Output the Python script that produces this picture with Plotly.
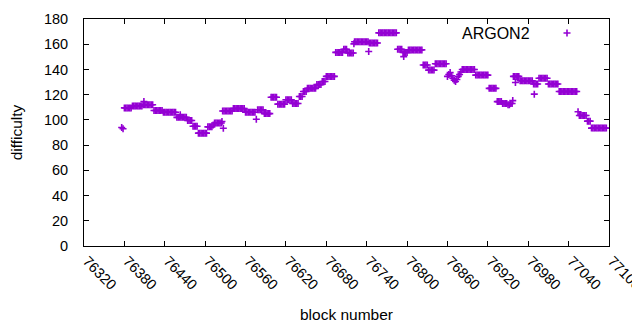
import plotly.graph_objects as go

# Main series: every second block from 76376 to 77096
blocks = list(range(76376, 77098, 2))
difficulty = [
    94, 93,                                                  # 76376
    109.5, 109.5, 109.5, 109.5, 109.5, 109.5,                # 76380
    111, 111, 111, 111, 111, 111, 111, 111,                  # 76392
    112, 112, 112, 112, 112, 112, 112, 112,                  # 76408
    107.5, 107.5, 107.5, 107.5, 107.5, 107.5, 107.5,         # 76424
    106, 106, 106, 106, 106, 106, 106, 106, 106, 106,        # 76438
    102, 102, 102, 102, 102, 102, 102, 102,                  # 76458
    99.5, 99.5, 99.5, 99.5,                                  # 76474
    95, 95, 95, 95,                                          # 76482
    89.5, 89.5, 89.5, 89.5, 89.5, 89.5, 89.5,                # 76490
    94.5, 94.5, 94.5, 94.5,                                  # 76504
    96,                                                      # 76512
    97.5, 97.5, 97.5, 97.5, 97.5, 97.5,                      # 76514
    107, 107, 107, 107, 107, 107, 107, 107,                  # 76526
    109, 109, 109, 109, 109, 109, 109, 109, 109,             # 76542
    106, 106, 106, 106, 106, 106, 106, 106,                  # 76560
    100.5,                                                   # 76576
    108, 108, 108, 108, 108,                                 # 76578
    105, 105, 105, 105, 105,                                 # 76588
    118, 118, 118, 118, 118,                                 # 76598
    112.5, 112.5, 112.5, 112.5, 112.5, 112.5,                # 76608
    116, 116, 116, 116, 116,                                 # 76620
    113, 113, 113, 113, 113,                                 # 76630
    118.5, 118.5, 118.5,                                     # 76640
    122.5, 122.5, 122.5,                                     # 76646
    125, 125, 125, 125, 125, 125, 125,                       # 76652
    128, 128, 128, 128,                                      # 76666
    130.5, 130.5, 130.5,                                     # 76674
    134.5, 134.5, 134.5, 134.5, 134.5, 134.5, 134.5,         # 76680
    153.5, 153.5, 153.5, 153.5, 153.5, 153.5,                # 76694
    156, 156, 156,                                           # 76706
    153, 153, 153, 153, 153,                                 # 76712
    162, 162, 162, 162, 162, 162, 162, 162, 162, 162, 162,   # 76722
    161, 161, 161, 161, 161, 161, 161,                       # 76744
    169, 169, 169, 169, 169, 169, 169, 169, 169, 169, 169, 169, 169, 169,  # 76758
    156, 156, 156, 156,                                      # 76786
    153.5, 153.5, 153.5, 153.5,                              # 76794
    155.5, 155.5, 155.5, 155.5, 155.5, 155.5, 155.5, 155.5, 155.5, 155.5, 155.5,  # 76802
    143.5, 143.5, 143.5, 143.5,                              # 76824
    139.5, 139.5, 139.5, 139.5, 139.5,                       # 76832
    144.5, 144.5, 144.5, 144.5, 144.5, 144.5, 144.5, 144.5, 144.5,  # 76842
    134.5, 136, 137.5, 135, 133, 131.5, 130.5, 132, 134.5, 136, 138,  # 76860
    140, 140, 140, 140, 140, 140, 140, 140, 140, 140,        # 76882
    135.5, 135.5, 135.5, 135.5, 135.5, 135.5, 135.5, 135.5, 135.5, 135.5,  # 76902
    125, 125, 125, 125, 125, 125,                            # 76922
    114.5, 114.5, 114.5, 114.5,                              # 76934
    113, 113, 113, 113, 112, 112, 113, 113,                  # 76942
    134.5, 134.5, 134.5, 134.5, 134.5,                       # 76958
    131, 131, 131, 131, 131, 131, 131, 131, 131, 131,        # 76968
    128.5, 128.5, 128.5, 128.5,                              # 76988
    133, 133, 133, 133, 133, 133, 133,                       # 76996
    128.5, 128.5, 128.5, 128.5, 128.5, 128.5, 128.5, 128.5,  # 77010
    122.5, 122.5, 122.5, 122.5, 122.5, 122.5, 122.5, 122.5, 122.5, 122.5, 122.5, 122.5, 122.5, 122.5,  # 77026
    106.5,                                                   # 77054
    103.5, 103.5, 103.5, 103.5, 103.5, 103.5,                # 77056
    99, 99, 99,                                              # 77068
    93.5, 93.5, 93.5, 93.5, 93.5, 93.5, 93.5, 93.5, 93.5, 93.5, 93.5, 93.5,  # 77074
]

# Individual off-run blocks
extra_blocks = [76409, 76463, 76525, 76527, 76721, 76743, 76795, 76957, 76961, 76989]
extra_difficulty = [114.5, 104, 98.7, 93.4, 160.3, 154.2, 150.2, 115.3, 129.6, 120.4]

x_ticks = list(range(76320, 77101, 60))
y_ticks = list(range(0, 181, 20))

COLOR = "#9400d3"
FONT = "Liberation Sans"

xs = blocks[:len(difficulty)] + extra_blocks
ys = difficulty[:len(blocks)] + extra_difficulty

marker = dict(symbol="cross-thin", size=5, color=COLOR, line=dict(color=COLOR, width=1.6))

fig = go.Figure()
fig.add_trace(go.Scatter(x=xs, y=ys, mode="markers", name="ARGON2",
                         showlegend=False, marker=marker))
# legend sample on an overlay axis spanning the plot area (0..1)
fig.add_trace(go.Scatter(x=[0.92], y=[0.938], mode="markers", xaxis="x2", yaxis="y2",
                         showlegend=False, marker=marker, hoverinfo="skip"))

axis_common = dict(showgrid=False, zeroline=False, showline=True, linecolor="black",
                   linewidth=1, mirror="ticks", ticks="inside", ticklen=5,
                   tickcolor="black", automargin=False,
                   tickfont=dict(family=FONT, size=14.5, color="black"))

# the page body adds an 8px offset; margins compensate so the plot area sits at 84..609 x 19..246
fig.update_layout(
    width=640, height=330,
    margin=dict(l=76, r=39, t=11, b=92),
    paper_bgcolor="white", plot_bgcolor="white",
    font=dict(family=FONT, size=14, color="black"),
    xaxis=dict(range=[76320, 77100], tickvals=x_ticks, tickformat="d", tickangle=45,
               ticklabeloverflow="allow", ticklabelshift=3,
               title=dict(text="block number", font=dict(family=FONT, size=15.5), standoff=17),
               **axis_common),
    yaxis=dict(range=[0, 180], tickvals=y_ticks, ticklabelstandoff=12,
               title=dict(text="difficulty", font=dict(family=FONT, size=15.5), standoff=18),
               **axis_common),
    xaxis2=dict(range=[0, 1], overlaying="x", visible=False, anchor="y2"),
    yaxis2=dict(range=[0, 1], overlaying="y", visible=False, anchor="x2"),
    annotations=[dict(text="ARGON2", xref="paper", yref="paper", x=0.853, y=0.938,
                      xanchor="right", yanchor="middle", showarrow=False,
                      font=dict(family=FONT, size=16, color="black"))],
)

fig.write_html("out.html")
